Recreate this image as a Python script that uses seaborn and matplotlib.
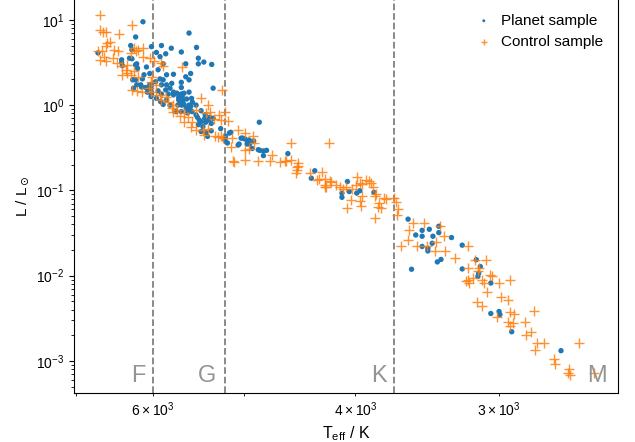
import matplotlib
matplotlib.use("Agg")
import matplotlib.pyplot as plt
import seaborn as sns

# Stars hosting planets: effective temperature (K) and luminosity (L_sun)
planet_teff = [
    6123, 6213, 5583, 6700, 6275, 6020, 5900, 5785, 5670, 5500,
    5960, 5850, 5917, 5480, 5420, 5480, 5335, 5620, 6260, 6390,
    6200, 6380, 6080, 6190, 5880, 5940, 5840, 5760, 5565, 5620,
    5583, 5670, 6110, 6040, 6240, 6200, 6130, 5970, 5917, 5840,
    5780, 6025, 5940, 5900, 5820, 5760, 5700, 5650, 5685, 5710,
    5640, 5583, 5555, 5640, 5910, 5880, 5800, 6020, 6070, 6025,
    5730, 5670, 5600, 5550, 5565, 5505, 5450, 5470, 5410, 5370,
    5400, 5340, 5320, 5480, 5430, 5450, 5400, 5340, 5320, 5380,
    5150, 5195, 5050, 5015, 4970, 4950, 4850, 5240, 5190, 5170,
    5135, 5060, 5030, 4990, 4965, 4945, 4905, 4920, 4860, 4844,
    4810, 4780, 4810, 4580, 4340, 4370, 4065, 4050, 4110, 4110,
    3990, 3965, 3855, 3600, 3575, 3545, 3500, 3450, 3385, 3500,
    3425, 3385, 3300, 3430, 3500, 3460, 3460, 3370, 3395, 3230,
    3230, 3140, 3115, 3125, 3130, 3050, 3050, 3000, 2995, 2925,
    2650, 6390, 6250, 6215, 6240, 6040, 6055, 6140, 6260, 6215,
    6290, 5760, 5720, 5670, 5660, 5610, 5700, 5665, 5615, 5583,
    5490, 5450, 5405, 5355, 5880, 5850, 5800, 6030, 6090, 6150,
    5900, 5960, 5840, 5583, 5545, 5505, 5670,
]
planet_lum = [
    9.5, 6.3, 7.0, 4.1, 5.0, 4.85, 5.0, 4.65, 4.2, 4.75,
    4.15, 4.0, 3.7, 3.55, 3.2, 3.05, 3.0, 3.05, 3.5, 3.4,
    3.05, 2.9, 2.8, 2.7, 3.05, 2.6, 2.27, 2.3, 2.35, 2.15,
    1.98, 1.85, 2.27, 2.35, 2.0, 1.73, 2.03, 1.88, 2.03, 1.73,
    1.8, 1.58, 1.47, 1.35, 1.35, 1.32, 1.23, 1.15, 1.08, 1.0,
    1.02, 1.0, 1.2, 1.38, 1.1, 1.02, 1.0, 1.35, 1.42, 1.26,
    0.84, 0.84, 0.81, 0.84, 0.96, 0.77, 0.86, 0.67, 0.70, 0.67,
    0.63, 0.61, 0.70, 0.59, 0.56, 0.49, 0.48, 0.50, 1.58, 0.43,
    0.47, 0.39, 0.35, 0.41, 0.35, 0.39, 0.63, 0.53, 0.43, 0.36,
    0.48, 0.34, 0.41, 0.40, 0.36, 0.35, 0.38, 0.31, 0.30, 0.295,
    0.29, 0.295, 0.256, 0.27, 0.17, 0.139, 0.127, 0.097, 0.093, 0.083,
    0.093, 0.099, 0.095, 0.046, 0.0119, 0.030, 0.034, 0.035, 0.038, 0.029,
    0.029, 0.032, 0.028, 0.024, 0.022, 0.021, 0.0195, 0.0155, 0.0145, 0.0228,
    0.012, 0.0154, 0.0128, 0.0107, 0.0098, 0.0082, 0.0036, 0.0038, 0.0035, 0.0022,
    0.00132, 3.15, 1.98, 1.98, 1.58, 1.73, 1.54, 1.63, 4.46, 2.97,
    3.55, 1.42, 1.38, 1.35, 1.26, 1.18, 1.15, 1.0, 0.92, 0.88,
    0.72, 0.64, 0.77, 0.72, 1.98, 1.51, 1.58, 1.73, 1.61, 1.73,
    1.73, 1.2, 1.15, 1.42, 1.08, 1.0, 1.61,
]

# Comparison stars without known planets
control_teff = [
    6670, 6670, 6630, 6590, 6430, 6255, 6575, 6540, 6600, 6490,
    6435, 6640, 6705, 6620, 6505, 6670, 6600, 6455, 6385, 6320,
    6275, 6215, 6190, 6123, 6235, 6120, 6040, 5990, 6340, 6320,
    6275, 6240, 6190, 6385, 6265, 6200, 6130, 6050, 6030, 6010,
    5910, 5880, 5660, 5960, 5970, 5917, 5850, 5820, 5760, 5780,
    5720, 5640, 5600, 5545, 5640, 5450, 5380, 5230, 5240, 5195,
    5165, 5430, 5380, 5420, 5305, 5270, 5220, 5060, 4990, 4955,
    5130, 5400, 5350, 5505, 5315, 5240, 5120, 4990, 4905, 5115,
    4990, 4860, 4748, 4730, 4654, 4600, 4555, 4550, 4487, 4487,
    4500, 4510, 4215, 4380, 4280, 4305, 4250, 4255, 4240, 4200,
    4155, 4125, 4100, 4080, 4030, 3985, 3960, 3915, 3880, 3865,
    4035, 3960, 3950, 4070, 3955, 3845, 3815, 3800, 3850, 3775,
    3705, 3690, 3675, 4610, 4500, 4320, 4250, 4210, 3995, 3945,
    3895, 3835, 3820, 3760, 3680, 3650, 3590, 3565, 3600, 3535,
    3485, 3465, 3405, 3410, 3375, 3350, 3340, 3275, 3195, 3190,
    3190, 3205, 3185, 3160, 3150, 3130, 3120, 3105, 3090, 3080,
    3075, 3055, 3040, 3000, 2935, 3135, 3105, 2990, 2945, 3010,
    2945, 2935, 2915, 2910, 2935, 2850, 2845, 2815, 2800, 2780,
    2790, 2740, 2690, 2680, 2610, 2605, 2615, 2555, 2480, 5100,
    4910, 6025, 5905, 5760, 5685, 5565, 5505, 5260,
]
control_lum = [
    11.3, 7.65, 7.2, 7.2, 6.9, 8.6, 5.3, 5.5, 4.9, 4.46,
    4.26, 4.26, 4.26, 3.7, 3.6, 3.4, 3.3, 3.1, 2.85, 2.97,
    4.07, 4.26, 4.46, 4.65, 4.7, 3.7, 3.55, 3.25, 2.6, 2.37,
    2.27, 2.48, 2.16, 2.27, 1.51, 1.47, 1.42, 1.58, 1.88, 2.16,
    3.1, 2.85, 2.8, 1.73, 1.32, 1.32, 1.26, 1.1, 1.0, 0.92,
    0.88, 0.81, 0.72, 0.64, 0.64, 1.2, 1.0, 1.51, 0.67, 0.83,
    0.65, 0.51, 0.53, 0.45, 0.43, 0.42, 0.41, 0.51, 0.30, 0.31,
    0.32, 0.81, 0.84, 0.88, 0.68, 0.44, 0.41, 0.47, 0.36, 0.223,
    0.228, 0.223, 0.223, 0.26, 0.218, 0.223, 0.36, 0.228, 0.212, 0.194,
    0.174, 0.159, 0.36, 0.159, 0.166, 0.136, 0.136, 0.116, 0.111, 0.124,
    0.116, 0.111, 0.104, 0.111, 0.104, 0.143, 0.121, 0.133, 0.121, 0.111,
    0.0773, 0.076, 0.086, 0.062, 0.066, 0.085, 0.072, 0.063, 0.047, 0.081,
    0.081, 0.0735, 0.061, 0.22, 0.19, 0.133, 0.109, 0.13, 0.116, 0.119,
    0.129, 0.091, 0.064, 0.079, 0.052, 0.022, 0.034, 0.041, 0.0263, 0.0222,
    0.041, 0.0222, 0.025, 0.0194, 0.038, 0.029, 0.0194, 0.016, 0.0223, 0.0122,
    0.0089, 0.0086, 0.0082, 0.0093, 0.0154, 0.0112, 0.0122, 0.0089, 0.0082, 0.0153,
    0.0065, 0.0102, 0.0098, 0.0082, 0.0089, 0.0049, 0.0044, 0.0057, 0.0052, 0.0033,
    0.0029, 0.0026, 0.0028, 0.0036, 0.0038, 0.0029, 0.0020, 0.0022, 0.0039, 0.00163,
    0.00134, 0.00163, 0.00105, 0.00091, 0.00081, 0.00068, 0.00072, 0.00163, 0.00072, 0.218,
    0.43, 1.42, 1.15, 0.83, 0.74, 0.56, 0.51, 0.77,
]

# Spectral-type boundaries (K) and class letters
type_bounds = [6000, 5200, 3700]
type_letters = ["F", "G", "K", "M"]

sns.set_style("ticks")
plt.rcParams["font.family"] = ["Liberation Sans", "DejaVu Sans"]
plt.rcParams["font.size"] = 10
plt.rcParams["axes.edgecolor"] = "black"
plt.rcParams["xtick.color"] = "black"
plt.rcParams["ytick.color"] = "black"
plt.rcParams["text.color"] = "black"
plt.rcParams["axes.labelcolor"] = "black"
plt.rcParams["xtick.major.size"] = 3.5
plt.rcParams["ytick.major.size"] = 3.5
plt.rcParams["xtick.minor.size"] = 2
plt.rcParams["ytick.minor.size"] = 2
plt.rcParams["axes.linewidth"] = 0.8

fig = plt.figure(figsize=(6.35, 4.42), dpi=100)
ax = fig.add_axes([74 / 635, 49 / 442, 544 / 635, 394.5 / 442])

sns.scatterplot(x=planet_teff, y=planet_lum, ax=ax, marker="o", s=15,
                color="#1f77b4", edgecolor="none", linewidth=0,
                label="Planet sample", zorder=2)
sns.scatterplot(x=control_teff, y=control_lum, ax=ax, marker="+", s=48,
                color="#ff7f0e", linewidth=1.0, alpha=0.85,
                label="Control sample", zorder=3)

ax.set_xscale("log")
ax.set_yscale("log")
ax.set_xlim(7030, 2364)
ax.set_ylim(4.21e-4, 17.8)

for b in type_bounds:
    ax.axvline(b, color="0.5", ls="--", lw=1.3, zorder=1)

letter_x = type_bounds + [None]
for letter, bx in zip(type_letters, letter_x):
    if bx is None:
        ax.annotate(letter, xy=(1.0, 0.0), xycoords="axes fraction",
                    xytext=(-11, 6), textcoords="offset pixels",
                    ha="right", va="bottom", fontsize=17, color="0.58")
    else:
        ax.annotate(letter, xy=(bx, 0.0), xycoords=("data", "axes fraction"),
                    xytext=(-8, 6), textcoords="offset pixels",
                    ha="right", va="bottom", fontsize=17, color="0.58")

ax.set_xlabel(r"T$_{\mathdefault{eff}}$ / K", fontsize=11.5)
ax.set_ylabel(r"L / L$_\odot$", fontsize=11)

ax.legend(loc="upper right", frameon=False, markerscale=0.55, fontsize=11,
          handletextpad=0.1, borderaxespad=0.6)

fig.savefig("out.png", dpi=100)
